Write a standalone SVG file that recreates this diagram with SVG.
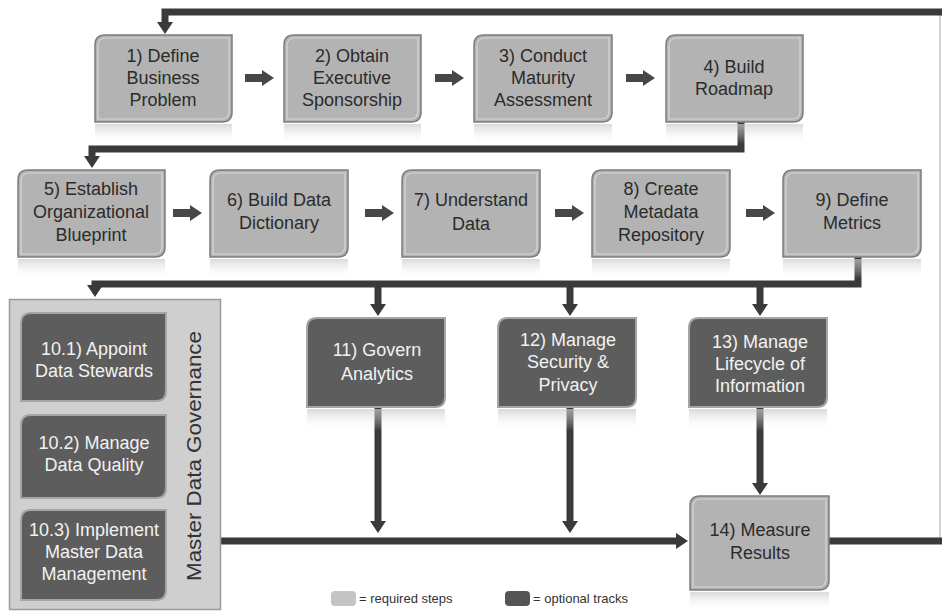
<svg xmlns="http://www.w3.org/2000/svg" width="942" height="611" viewBox="0 0 942 611">
<style>
.req{fill:#b3b3b3;stroke:#7c7c7c;stroke-width:1.5}
.opt{fill:#5d5d5d;stroke:#a5a5a5;stroke-width:2}
.hl{fill:none;stroke:#e6e6e6;stroke-width:1.2;opacity:.7}
.tr{font-family:"Liberation Sans",Arial,sans-serif;font-size:18px;fill:#2b2b2b;text-anchor:middle}
.to{font-family:"Liberation Sans",Arial,sans-serif;font-size:18px;fill:#f2f2f2;text-anchor:middle}
.ln{fill:none;stroke:#3a3a3a;stroke-width:7;marker-end:url(#ah)}
.ln2{fill:none;stroke:#3a3a3a;stroke-width:7}
.fat{fill:#474747}
.refl{fill:url(#rg)}
.leg{font-family:"Liberation Sans",Arial,sans-serif;font-size:13px;fill:#333}
</style>
<defs>
<marker id="ah" markerUnits="userSpaceOnUse" markerWidth="12" markerHeight="16" refX="1" refY="8" orient="auto">
<path d="M0,0 L12,8 L0,16 Z" fill="#3a3a3a"/>
</marker>
<linearGradient id="rg" x1="0" y1="0" x2="0" y2="1">
<stop offset="0" stop-color="#c9c9c9" stop-opacity="0.7"/>
<stop offset="1" stop-color="#ffffff" stop-opacity="0"/>
</linearGradient>
<path id="fa" d="M0,-4 H17 V-8 L29,0 L17,8 V4 H0 Z"/>
</defs>
<rect width="942" height="611" fill="#ffffff"/>

<g id="connectors">
<path d="M940,14 V541" fill="none" stroke="#c4c4c4" stroke-width="1.5"/>
<path class="ln" d="M942,12 H165 V23"/>
<path class="ln" d="M741,122 V149 H92 V157"/>
<path class="ln" d="M858,257 V284 H95 V286"/>
<path class="ln" d="M378,284 V305"/>
<path class="ln" d="M570,284 V305"/>
<path class="ln" d="M760,284 V305"/>
<path class="ln" d="M378,408 V522"/>
<path class="ln" d="M570,408 V522"/>
<path class="ln" d="M760,408 V484"/>
<path class="ln" d="M220,541 H677"/>
<path class="ln2" d="M829,541 H942"/>
<use href="#fa" class="fat" x="245" y="78"/>
<use href="#fa" class="fat" x="435" y="78"/>
<use href="#fa" class="fat" x="626" y="78"/>
<use href="#fa" class="fat" x="173" y="213"/>
<use href="#fa" class="fat" x="365" y="213"/>
<use href="#fa" class="fat" x="555" y="213"/>
<use href="#fa" class="fat" x="746" y="213"/>
</g>

<g id="n1">
<rect class="refl" x="95" y="124" width="137" height="20"/>
<path class="req" d="M105,35 H232 V112 Q232,122 222,122 H95 V45 Q95,35 105,35 Z"/>
<path class="hl" d="M106,38 H229 V111 Q229,119 221,119 H98 V46 Q98,38 106,38 Z"/>
<text class="tr" x="163" y="62">1) Define</text>
<text class="tr" x="163" y="84">Business</text>
<text class="tr" x="163" y="106">Problem</text>
</g>
<g id="n2">
<rect class="refl" x="284" y="124" width="137" height="20"/>
<path class="req" d="M294,35 H421 V112 Q421,122 411,122 H284 V45 Q284,35 294,35 Z"/>
<path class="hl" d="M295,38 H418 V111 Q418,119 410,119 H287 V46 Q287,38 295,38 Z"/>
<text class="tr" x="352" y="62">2) Obtain</text>
<text class="tr" x="352" y="84">Executive</text>
<text class="tr" x="352" y="106">Sponsorship</text>
</g>
<g id="n3">
<rect class="refl" x="474" y="124" width="138" height="20"/>
<path class="req" d="M484,35 H612 V112 Q612,122 602,122 H474 V45 Q474,35 484,35 Z"/>
<path class="hl" d="M485,38 H609 V111 Q609,119 601,119 H477 V46 Q477,38 485,38 Z"/>
<text class="tr" x="543" y="62">3) Conduct</text>
<text class="tr" x="543" y="84">Maturity</text>
<text class="tr" x="543" y="106">Assessment</text>
</g>
<g id="n4">
<rect class="refl" x="666" y="124" width="137" height="20"/>
<path class="req" d="M676,35 H803 V112 Q803,122 793,122 H666 V45 Q666,35 676,35 Z"/>
<path class="hl" d="M677,38 H800 V111 Q800,119 792,119 H669 V46 Q669,38 677,38 Z"/>
<text class="tr" x="734" y="73">4) Build</text>
<text class="tr" x="734" y="95">Roadmap</text>
</g>

<g id="n5">
<rect class="refl" x="18" y="259" width="147" height="20"/>
<path class="req" d="M28,170 H165 V247 Q165,257 155,257 H18 V180 Q18,170 28,170 Z"/>
<path class="hl" d="M29,173 H162 V246 Q162,254 154,254 H21 V181 Q21,173 29,173 Z"/>
<text class="tr" x="91" y="195">5) Establish</text>
<text class="tr" x="91" y="218">Organizational</text>
<text class="tr" x="91" y="241">Blueprint</text>
</g>
<g id="n6">
<rect class="refl" x="210" y="259" width="138" height="20"/>
<path class="req" d="M220,170 H348 V247 Q348,257 338,257 H210 V180 Q210,170 220,170 Z"/>
<path class="hl" d="M221,173 H345 V246 Q345,254 337,254 H213 V181 Q213,173 221,173 Z"/>
<text class="tr" x="279" y="206">6) Build Data</text>
<text class="tr" x="279" y="229">Dictionary</text>
</g>
<g id="n7">
<rect class="refl" x="402" y="259" width="138" height="20"/>
<path class="req" d="M412,170 H540 V247 Q540,257 530,257 H402 V180 Q402,170 412,170 Z"/>
<path class="hl" d="M413,173 H537 V246 Q537,254 529,254 H405 V181 Q405,173 413,173 Z"/>
<text class="tr" x="471" y="206">7) Understand</text>
<text class="tr" x="471" y="230">Data</text>
</g>
<g id="n8">
<rect class="refl" x="592" y="259" width="138" height="20"/>
<path class="req" d="M602,170 H730 V247 Q730,257 720,257 H592 V180 Q592,170 602,170 Z"/>
<path class="hl" d="M603,173 H727 V246 Q727,254 719,254 H595 V181 Q595,173 603,173 Z"/>
<text class="tr" x="661" y="195">8) Create</text>
<text class="tr" x="661" y="218">Metadata</text>
<text class="tr" x="661" y="241">Repository</text>
</g>
<g id="n9">
<rect class="refl" x="783" y="259" width="138" height="20"/>
<path class="req" d="M793,170 H921 V247 Q921,257 911,257 H783 V180 Q783,170 793,170 Z"/>
<path class="hl" d="M794,173 H918 V246 Q918,254 910,254 H786 V181 Q786,173 794,173 Z"/>
<text class="tr" x="852" y="206">9) Define</text>
<text class="tr" x="852" y="229">Metrics</text>
</g>

<g id="n10">
<rect x="9.5" y="299.5" width="211" height="310" fill="#cfcfcf" stroke="#9a9a9a" stroke-width="1.5"/>
<text x="0" y="0" transform="translate(201,456) rotate(-90)" font-family="'Liberation Sans',Arial,sans-serif" font-size="20" fill="#333" text-anchor="middle" textLength="250" lengthAdjust="spacingAndGlyphs">Master Data Governance</text>
</g>
<g id="n10_1">
<path class="opt" d="M31,313 H166 V391 Q166,401 156,401 H21 V323 Q21,313 31,313 Z"/>
<text class="to" x="94" y="355">10.1) Appoint</text>
<text class="to" x="94" y="377">Data Stewards</text>
</g>
<g id="n10_2">
<path class="opt" d="M31,415 H166 V488 Q166,498 156,498 H21 V425 Q21,415 31,415 Z"/>
<text class="to" x="94" y="449">10.2) Manage</text>
<text class="to" x="94" y="471">Data Quality</text>
</g>
<g id="n10_3">
<path class="opt" d="M31,510 H166 V590 Q166,600 156,600 H21 V520 Q21,510 31,510 Z"/>
<text class="to" x="94" y="536">10.3) Implement</text>
<text class="to" x="94" y="558">Master Data</text>
<text class="to" x="94" y="580">Management</text>
</g>

<g id="n11">
<rect class="refl" x="307" y="409" width="138" height="22"/>
<path class="opt" d="M317,318 H445 V397 Q445,407 435,407 H307 V328 Q307,318 317,318 Z"/>
<text class="to" x="377" y="356">11) Govern</text>
<text class="to" x="377" y="380">Analytics</text>
</g>
<g id="n12">
<rect class="refl" x="498" y="409" width="138" height="22"/>
<path class="opt" d="M508,318 H636 V397 Q636,407 626,407 H498 V328 Q498,318 508,318 Z"/>
<text class="to" x="568" y="346">12) Manage</text>
<text class="to" x="568" y="368">Security &amp;</text>
<text class="to" x="568" y="391">Privacy</text>
</g>
<g id="n13">
<rect class="refl" x="689" y="409" width="138" height="22"/>
<path class="opt" d="M699,318 H827 V397 Q827,407 817,407 H689 V328 Q689,318 699,318 Z"/>
<text class="to" x="760" y="348">13) Manage</text>
<text class="to" x="760" y="370">Lifecycle of</text>
<text class="to" x="760" y="392">Information</text>
</g>
<g id="n14">
<rect class="refl" x="690" y="592" width="139" height="19"/>
<path class="req" d="M700,496 H829 V580 Q829,590 819,590 H690 V506 Q690,496 700,496 Z"/>
<path class="hl" d="M701,499 H826 V579 Q826,587 818,587 H693 V507 Q693,499 701,499 Z"/>
<text class="tr" x="760" y="536">14) Measure</text>
<text class="tr" x="760" y="559">Results</text>
</g>

<g id="legend">
<rect x="331" y="591" width="25" height="15" rx="4" fill="#c4c4c4"/>
<text class="leg" x="359" y="603">= required steps</text>
<rect x="505" y="591" width="25" height="15" rx="4" fill="#555"/>
<text class="leg" x="533" y="603">= optional tracks</text>
</g>
</svg>
